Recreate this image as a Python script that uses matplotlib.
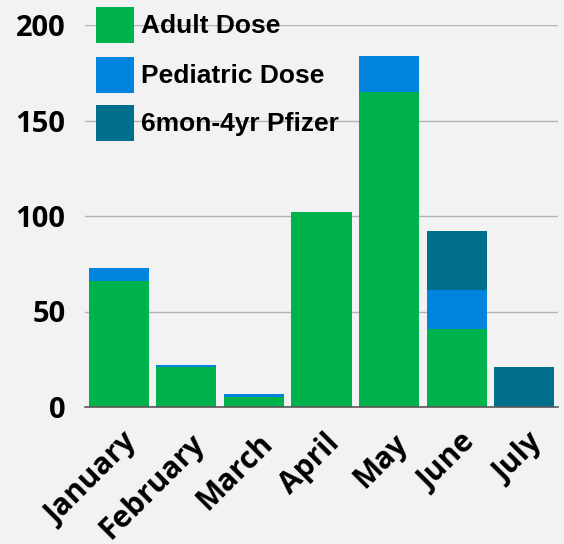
import matplotlib
matplotlib.use("Agg")
import matplotlib.pyplot as plt
from matplotlib.patches import Rectangle
import matplotlib.transforms as mtransforms
import numpy as np

months = ["January", "February", "March", "April", "May", "June", "July"]
adult = [66, 21, 5, 102, 165, 41, 0]
pediatric = [7, 1, 2, 0, 19, 20, 0]
pfizer = [0, 0, 0, 0, 0, 31, 21]
series_names = ["Adult Dose", "Pediatric Dose", "6mon-4yr Pfizer"]
colors = ["#00b24c", "#0084de", "#006f8c"]
yticks = [0, 50, 100, 150, 200]

W, H = 564, 544
bg = "#f2f2f2"
fig = plt.figure(figsize=(W/100, H/100), dpi=100, facecolor=bg)
ax = fig.add_axes([85/W, 1-407/H, 473/W, 382/H], facecolor=bg)

x = np.arange(len(months))
w = 0.89
bottom = np.zeros(len(months))
for vals, c in zip([adult, pediatric, pfizer], colors):
    v = np.array(vals, dtype=float)
    ax.bar(x, v, width=w, bottom=bottom, color=c, zorder=3, linewidth=0)
    bottom += v

ax.set_xlim(-0.5, len(months) - 0.5)
ax.set_ylim(0, 200)
ax.set_yticks(yticks)
ax.yaxis.grid(True, color="#b3b3b3", linewidth=1, zorder=0)
ax.set_axisbelow(True)
for s in ["top", "right", "left"]:
    ax.spines[s].set_visible(False)
ax.spines["bottom"].set_color("#595959")
ax.spines["bottom"].set_linewidth(1.2)
ax.spines["bottom"].set_zorder(4)
ax.tick_params(axis="both", length=0)
ax.tick_params(axis="y", pad=14)
ax.set_yticklabels([str(t) for t in yticks], fontfamily="Open Sans",
                   fontweight="bold", fontsize=21)
ax.set_xticks(x)
ax.set_xticklabels(months, fontfamily="Open Sans", fontweight="bold",
                   fontsize=21.5, rotation=45, ha="right",
                   rotation_mode="anchor", va="center")
ax.tick_params(axis="x", pad=12)
offset = mtransforms.ScaledTranslation(14/100, -15/100, fig.dpi_scale_trans)
for lab in ax.get_xticklabels():
    lab.set_transform(lab.get_transform() + offset)

# legend (manual, figure pixel layout)
row_tops = [7, 57, 105]
for name, c, top in zip(series_names, colors, row_tops):
    fig.add_artist(Rectangle((96/W, 1-(top+36)/H), 38/W, 36/H,
                             transform=fig.transFigure, facecolor=c,
                             edgecolor="none"))
    fig.text(141/W, 1-(top+26)/H, name, fontfamily="Liberation Sans",
             fontweight="bold", fontsize=19, va="baseline", ha="left",
             color="black")

fig.savefig("out.png", dpi=100, facecolor=bg)
